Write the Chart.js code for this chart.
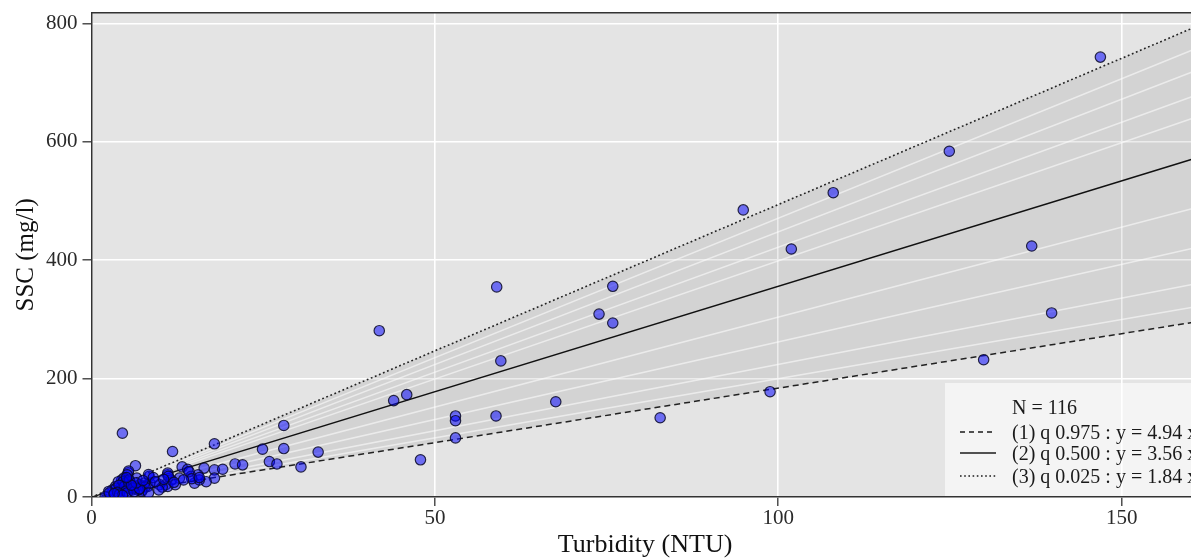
<!DOCTYPE html>
<html>
<head>
<meta charset="utf-8">
<script src="https://cdn.jsdelivr.net/npm/chart.js@4/dist/chart.umd.min.js"></script>
<style>
html,body{margin:0;padding:0;overflow:hidden;background:#fff;}
#wrap{position:relative;width:1191px;height:560px;overflow:hidden;}
#c{display:block;width:1205px;height:560px;}
#legend{position:absolute;left:945px;top:383px;width:246px;height:113px;background:rgba(255,255,255,0.6);font-family:"Liberation Serif";font-size:20px;color:#1a1a1a;overflow:hidden;}
.row{position:absolute;left:0;height:22px;line-height:22px;white-space:nowrap;width:260px;}
.row svg{position:absolute;left:15px;top:0;}
.row span{position:absolute;left:67px;top:0;}
</style>
</head>
<body>
<div id="wrap"><canvas id="c" width="1205" height="560"></canvas><div id="legend"></div></div>
<script>
// ---- data ----
const turbidity = [
 146.9,124.9,108,94.9,101.9,136.9,139.8,129.9,98.8,82.8,
 75.9,75.9,73.9,67.6,59,59.6,58.9,53,53,53,
 47.9,41.9,45.9,44,30.5,33,28,24.9,28,25.9,
 27,20.9,22,17.9,11.8,13.2,14,16.4,17.9,19.1,
 17.9,16.7,15,14.5,15.5,12.8,11.1,10.8,9.9,8.4,
 8.2,7.4,11.1,15.7,11.6,11.1,8.5,7,7.7,4.5,
 6.4,5.35,5.4,5.2,4.7,14.2,8.3,9.0,11.2,14.6,
 7.8,10.3,12.2,13.4,3.5,4.2,3,2.5,5.4,5.9,
 6.4,4.4,3.9,4.9,5.6,6.6,7.3,8.3,3.2,2,
 9.8,4.3,3.6,2.6,4.6,5.5,6.8,4.8,15.7,4,
 5,6,3.8,4.1,5.2,6.2,7,6.5,5.8,4.5,
 3.3,7.5,9.3,10.5,12,5.1
];
const ssc = [
 743,584,514,485,419,424,311,232,178,134,
 356,294,309,161,355,230,137,137,129,100,
 63,281,173,163,51,76,121,81,82,60,
 56,56,54.5,90,77,51,47,49,46,47,
 32,26,23.6,35,37.6,32,37.6,21,21,35,
 18,12,40.5,29,29,18,23.6,21,23.6,108,
 53,41,44,37.6,32,43,38,33,35,31,
 17,17,21,29,18,15,12,9.5,15,12,
 18,29,26,23.6,26,32,9.5,6.8,3.9,1,
 12,12,15,7,26,29,12,18,33,20,
 10,15,8,5,7,9,14,24,20,3,
 6,28,26,30,25,33
];
const quantileSlopes = [4.94, 3.56, 1.84];          // dotted (upper), solid (median), dashed (lower)
const fanSlopes = [4.71, 4.48, 4.22, 3.99, 3.04, 2.62, 2.24, 2.0];
const xTicks = [0, 50, 100, 150];
const yTicks = [0, 200, 400, 600, 800];
const xRange = [0, 161.2];
const yRange = [0, 818];
const nObs = "N = 116";
const legendLabels = ["(1) q 0.975 : y = 4.94 x", "(2) q 0.500 : y = 3.56 x", "(3) q 0.025 : y = 1.84 x"];
const legendDash = ["5,4", "", "1.6,2.6"];

// ---- legend (HTML text) ----
const leg = document.getElementById('legend');
const rowTops = [13, 37.7, 59, 82];
{
  const r = document.createElement('div'); r.className = 'row'; r.style.top = rowTops[0] + 'px';
  r.innerHTML = '<span>' + nObs + '</span>'; leg.appendChild(r);
}
legendLabels.forEach((t, i) => {
  const r = document.createElement('div'); r.className = 'row'; r.style.top = rowTops[i + 1] + 'px';
  r.innerHTML = '<svg width="36" height="22"><line x1="0" y1="11" x2="36" y2="11" stroke="#1a1a1a" stroke-width="1.4"' +
    (legendDash[i] ? ' stroke-dasharray="' + legendDash[i] + '"' : '') + '/></svg><span>' + t + '</span>';
  leg.appendChild(r);
});

// ---- chart ----
const FONT = 'Liberation Serif';
const lineData = s => [{x: xRange[0], y: s * xRange[0]}, {x: xRange[1], y: s * xRange[1]}];

const panelPlugin = {
  id: 'panel',
  beforeDraw(chart) {
    const {ctx, chartArea: a} = chart;
    ctx.save(); ctx.fillStyle = '#e4e4e4';
    ctx.fillRect(a.left, a.top, a.right - a.left, a.bottom - a.top); ctx.restore();
  },
  beforeDatasetsDraw(chart) {
    const {ctx, chartArea: a} = chart;
    ctx.save(); ctx.strokeStyle = '#333'; ctx.lineWidth = 1.5;
    ctx.beginPath(); ctx.moveTo(a.left, a.top); ctx.lineTo(a.right, a.top); ctx.stroke(); ctx.restore();
  }
};

const datasets = [
  {
    type: 'scatter', label: 'obs', order: 0,
    data: turbidity.map((x, i) => ({x, y: ssc[i]})),
    pointRadius: 5.2, pointBorderWidth: 1.2,
    pointBackgroundColor: 'rgba(0,0,255,0.52)', pointBorderColor: 'rgba(10,10,40,0.85)'
  },
  {
    type: 'line', label: 'upper', order: 1, data: lineData(quantileSlopes[0]),
    borderColor: '#222', borderWidth: 1.6, borderDash: [1.8, 2.6], pointRadius: 0,
    fill: 2, backgroundColor: 'rgba(0,0,0,0.075)'
  },
  {
    type: 'line', label: 'lower', order: 1, data: lineData(quantileSlopes[2]),
    borderColor: '#222', borderWidth: 1.5, borderDash: [6, 4], pointRadius: 0, fill: false
  },
  {
    type: 'line', label: 'median', order: 1, data: lineData(quantileSlopes[1]),
    borderColor: '#111', borderWidth: 1.4, pointRadius: 0, fill: false
  },
  ...fanSlopes.map(s => ({
    type: 'line', label: 'fan', order: 2, data: lineData(s),
    borderColor: 'rgba(255,255,255,0.55)', borderWidth: 1.5, pointRadius: 0, fill: false
  }))
];

new Chart(document.getElementById('c'), {
  type: 'scatter',
  data: {datasets},
  plugins: [panelPlugin],
  options: {
    responsive: false, maintainAspectRatio: false, animation: false, devicePixelRatio: 1,
    layout: {padding: {left: 7, top: 12.7, right: 0, bottom: 0}},
    plugins: {legend: {display: false}, tooltip: {enabled: false}, filler: {drawTime: 'beforeDatasetsDraw'}},
    scales: {
      x: {
        type: 'linear', min: xRange[0], max: xRange[1],
        afterBuildTicks: sc => { sc.ticks = xTicks.map(v => ({value: v})); },
        grid: {color: '#ffffff', lineWidth: 1.6, tickColor: '#333', tickLength: 9, tickWidth: 1.3},
        border: {display: true, color: '#333', width: 1.5},
        ticks: {font: {family: FONT, size: 21, lineHeight: 1.0}, color: '#2a2a2a', padding: 1.5, maxRotation: 0},
        title: {display: true, text: 'Turbidity (NTU)', font: {family: FONT, size: 26, lineHeight: 1.15}, color: '#111', padding: {top: 0, bottom: 0}}
      },
      y: {
        type: 'linear', min: yRange[0], max: yRange[1],
        afterBuildTicks: sc => { sc.ticks = yTicks.map(v => ({value: v})); },
        grid: {color: '#ffffff', lineWidth: 1.6, tickColor: '#333', tickLength: 9, tickWidth: 1.3},
        border: {display: true, color: '#333', width: 1.5},
        ticks: {font: {family: FONT, size: 21, lineHeight: 0.5}, color: '#2a2a2a', padding: 5},
        title: {display: true, text: 'SSC (mg/l)', font: {family: FONT, size: 25, lineHeight: 1.2}, color: '#111', padding: {top: 4, bottom: 0}}
      }
    }
  }
});
</script>
</body>
</html>
